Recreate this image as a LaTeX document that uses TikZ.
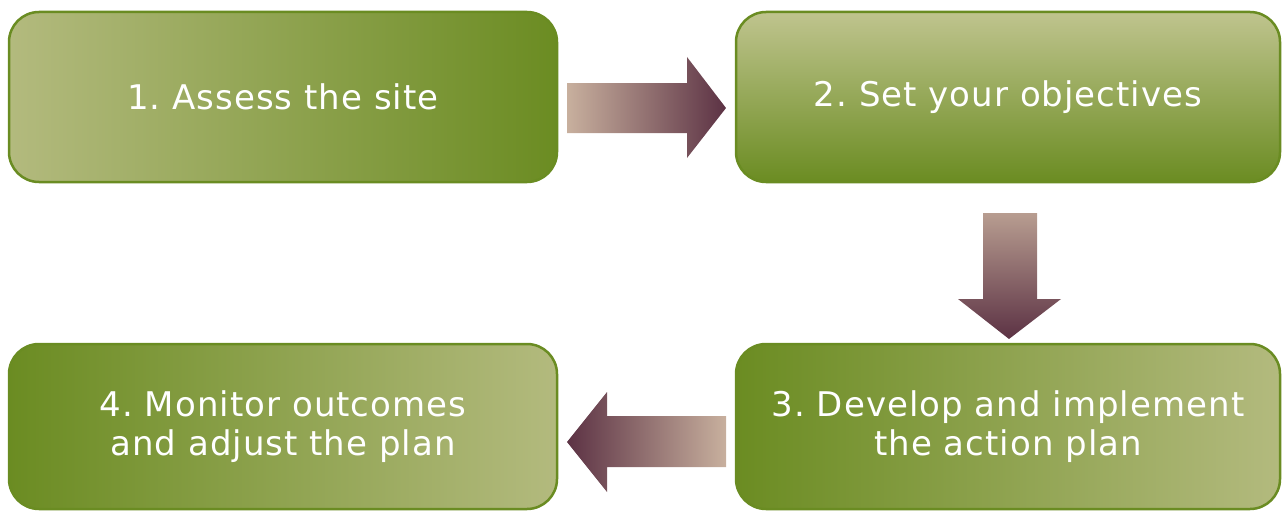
\documentclass[tikz,border=0pt]{standalone}
\usepackage{fontspec}
\newfontfamily\lab{DejaVu Sans}[LetterSpace=3]
\definecolor{gdark}{HTML}{6B8C22}
\definecolor{glight}{HTML}{B3BA7E}
\definecolor{glighttop}{HTML}{BFC48E}
\definecolor{gborder}{HTML}{6A8C22}
\definecolor{alight}{HTML}{C8B09E}
\definecolor{adark}{HTML}{5C3244}
\tikzset{
  stepbox/.style={rectangle, rounded corners=30pt, draw=gborder, line width=2.5pt,
    minimum width=548pt, text=white, align=center, inner sep=0pt,
    font=\lab\fontsize{34}{39}\selectfont\frenchspacing},
  blockarrow/.style={draw=none}
}
\begin{document}
\frenchspacing
\begin{tikzpicture}[x=1pt,y=-1pt]
\useasboundingbox (0,0) rectangle (1282,511);
\node[stepbox, minimum height=170pt, left color=glight, right color=gdark] (b1) at (283,97) {1. Assess the site};
\node[stepbox, minimum width=544pt, minimum height=170pt, top color=glighttop, bottom color=gdark] (b2) at (1008,97) {2. Set your objectives};
\node[stepbox, minimum width=544pt, minimum height=165pt, left color=gdark, right color=glight] (b3) at (1008,426.5) {3. Develop and implement\\the action plan};
\node[stepbox, minimum height=165pt, left color=gdark, right color=glight] (b4) at (283,426.5) {4. Monitor outcomes\\and adjust the plan};
\shade[blockarrow, left color=alight, right color=adark]
  (567,83) -- (687,83) -- (687,57) -- (726,108) -- (687,158) -- (687,133) -- (567,133) -- cycle;
\shade[blockarrow, top color=alight!85!adark, bottom color=adark]
  (983,213) -- (1037,213) -- (1037,299) -- (1061,299) -- (1009,339) -- (958,299) -- (983,299) -- cycle;
\shade[blockarrow, left color=adark, right color=alight]
  (726,416) -- (607,416) -- (607,392) -- (567,442) -- (607,492) -- (607,467) -- (726,467) -- cycle;
\end{tikzpicture}
\end{document}
